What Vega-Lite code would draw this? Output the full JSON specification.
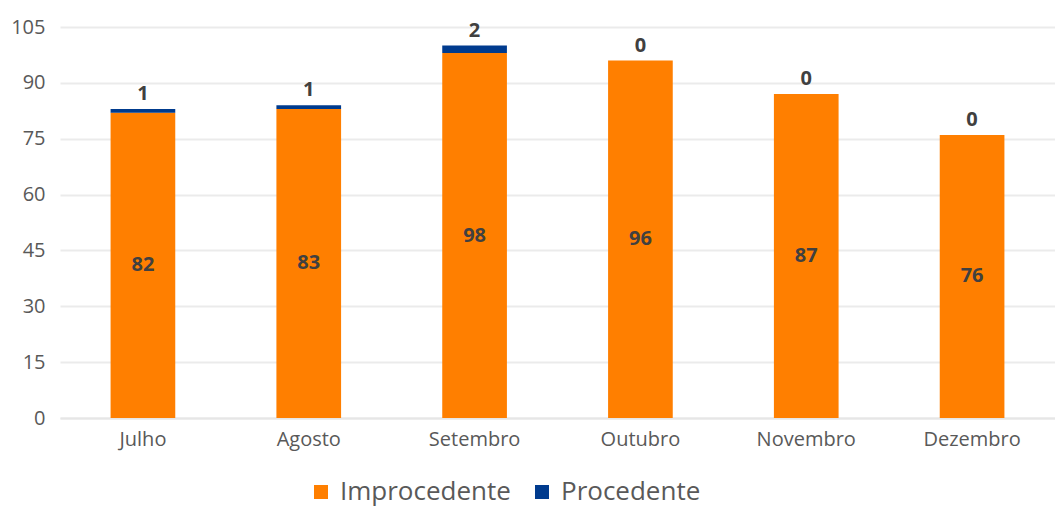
{
  "$schema": "https://vega.github.io/schema/vega-lite/v6.json",
  "width": 995,
  "height": 391,
  "autosize": {"type": "none"},
  "padding": {"left": 60, "top": 27, "right": 0, "bottom": 93},
  "background": "white",
  "config": {
    "font": "Open Sans",
    "view": {"stroke": null}
  },
  "data": {
    "values": [
      {"mes": "Julho", "tipo": "Improcedente", "valor": 82, "ordem": 1},
      {"mes": "Julho", "tipo": "Procedente", "valor": 1, "ordem": 2},
      {"mes": "Agosto", "tipo": "Improcedente", "valor": 83, "ordem": 1},
      {"mes": "Agosto", "tipo": "Procedente", "valor": 1, "ordem": 2},
      {"mes": "Setembro", "tipo": "Improcedente", "valor": 98, "ordem": 1},
      {"mes": "Setembro", "tipo": "Procedente", "valor": 2, "ordem": 2},
      {"mes": "Outubro", "tipo": "Improcedente", "valor": 96, "ordem": 1},
      {"mes": "Outubro", "tipo": "Procedente", "valor": 0, "ordem": 2},
      {"mes": "Novembro", "tipo": "Improcedente", "valor": 87, "ordem": 1},
      {"mes": "Novembro", "tipo": "Procedente", "valor": 0, "ordem": 2},
      {"mes": "Dezembro", "tipo": "Improcedente", "valor": 76, "ordem": 1},
      {"mes": "Dezembro", "tipo": "Procedente", "valor": 0, "ordem": 2}
    ]
  },
  "transform": [
    {"stack": "valor", "groupby": ["mes"], "sort": [{"field": "ordem", "order": "ascending"}], "as": ["v0", "v1"]},
    {"calculate": "(datum.v0 + datum.v1) / 2", "as": "meio"}
  ],
  "encoding": {
    "x": {
      "field": "mes",
      "type": "nominal",
      "sort": ["Julho", "Agosto", "Setembro", "Outubro", "Novembro", "Dezembro"],
      "scale": {"paddingInner": 0.61, "paddingOuter": 0.305},
      "axis": {
        "title": null,
        "labelAngle": 0,
        "labelFontSize": 20,
        "labelColor": "#595959",
        "labelPadding": 11,
        "ticks": false,
        "domainColor": "#E6E6E6",
        "domainWidth": 2
      }
    }
  },
  "layer": [
    {
      "mark": {"type": "bar"},
      "encoding": {
        "y": {
          "field": "v0",
          "type": "quantitative",
          "scale": {"domain": [0, 105], "nice": false},
          "axis": {
            "title": null,
            "values": [0, 15, 30, 45, 60, 75, 90, 105],
            "labelFontSize": 20,
            "labelColor": "#595959",
            "labelPadding": 15,
            "ticks": false,
            "domain": false,
            "gridColor": "#EBEBEB",
            "gridWidth": 2
          }
        },
        "y2": {"field": "v1"},
        "color": {
          "field": "tipo",
          "type": "nominal",
          "scale": {"domain": ["Improcedente", "Procedente"], "range": ["#FF7F00", "#003B8E"]},
          "legend": {
            "title": null,
            "orient": "none",
            "direction": "horizontal",
            "legendX": 248,
            "legendY": 452,
            "symbolType": "square",
            "symbolSize": 196,
            "symbolStrokeWidth": 0,
            "labelFontSize": 26,
            "labelLimit": 400,
            "labelColor": "#595959",
            "labelOffset": 6,
            "columnPadding": 18
          }
        }
      }
    },
    {
      "transform": [{"filter": "datum.tipo == 'Improcedente'"}],
      "mark": {"type": "text", "fontSize": 20, "fontWeight": "bold", "color": "#404040"},
      "encoding": {
        "y": {"field": "meio", "type": "quantitative"},
        "text": {"field": "valor", "type": "quantitative"}
      }
    },
    {
      "transform": [{"filter": "datum.tipo == 'Procedente'"}],
      "mark": {"type": "text", "fontSize": 20, "fontWeight": "bold", "color": "#404040", "dy": -15},
      "encoding": {
        "y": {"field": "v1", "type": "quantitative"},
        "text": {"field": "valor", "type": "quantitative"}
      }
    }
  ]
}
